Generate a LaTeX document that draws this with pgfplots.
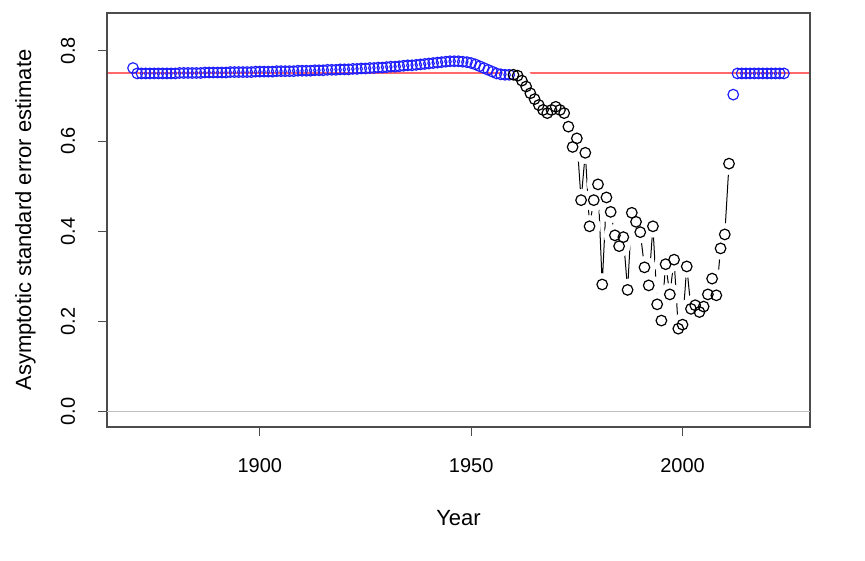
\documentclass[border=0pt]{standalone}
\usepackage{fontspec}
\setmainfont{Liberation Sans}
\usepackage{pgfplots}
\pgfplotsset{compat=1.18}
\usepackage{pgfplotstable}
\definecolor{myred}{RGB}{255,105,105}
\definecolor{bluept}{RGB}{30,30,255}
\pgfplotstableread{
yr v
1870 0.762
1871 0.750
1872 0.750
1873 0.750
1874 0.750
1875 0.750
1876 0.750
1877 0.750
1878 0.750
1879 0.750
1880 0.750
1881 0.751
1882 0.751
1883 0.751
1884 0.751
1885 0.751
1886 0.751
1887 0.752
1888 0.752
1889 0.752
1890 0.752
1891 0.752
1892 0.752
1893 0.753
1894 0.753
1895 0.753
1896 0.753
1897 0.753
1898 0.753
1899 0.754
1900 0.754
1901 0.754
1902 0.754
1903 0.754
1904 0.755
1905 0.755
1906 0.755
1907 0.755
1908 0.755
1909 0.756
1910 0.756
1911 0.756
1912 0.756
1913 0.757
1914 0.757
1915 0.757
1916 0.758
1917 0.758
1918 0.758
1919 0.759
1920 0.759
1921 0.759
1922 0.760
1923 0.760
1924 0.761
1925 0.761
1926 0.762
1927 0.762
1928 0.763
1929 0.763
1930 0.764
1931 0.765
1932 0.765
1933 0.766
1934 0.767
1935 0.768
1936 0.768
1937 0.769
1938 0.770
1939 0.771
1940 0.772
1941 0.773
1942 0.774
1943 0.775
1944 0.776
1945 0.777
1946 0.777
1947 0.777
1948 0.776
1949 0.775
1950 0.773
1951 0.770
1952 0.766
1953 0.762
1954 0.758
1955 0.754
1956 0.750
1957 0.748
1958 0.747
1959 0.747
2012 0.703
2013 0.750
2014 0.750
2015 0.750
2016 0.750
2017 0.750
2018 0.750
2019 0.750
2020 0.750
2021 0.750
2022 0.750
2023 0.750
2024 0.750
}\bluetab
\pgfplotstableread{
yr v
1960 0.747
1961 0.745
1962 0.734
1963 0.721
1964 0.706
1965 0.693
1966 0.680
1967 0.669
1968 0.662
1969 0.669
1970 0.676
1971 0.669
1972 0.662
1973 0.632
1974 0.587
1975 0.606
1976 0.469
1977 0.574
1978 0.411
1979 0.469
1980 0.504
1981 0.282
1982 0.475
1983 0.443
1984 0.391
1985 0.367
1986 0.387
1987 0.270
1988 0.441
1989 0.421
1990 0.398
1991 0.320
1992 0.280
1993 0.411
1994 0.238
1995 0.202
1996 0.327
1997 0.260
1998 0.337
1999 0.184
2000 0.193
2001 0.322
2002 0.228
2003 0.236
2004 0.221
2005 0.233
2006 0.260
2007 0.295
2008 0.258
2009 0.362
2010 0.393
2011 0.550
}\blacktab
\begin{document}
\fontsize{20}{24}\selectfont
\begin{tikzpicture}
\begin{axis}[name=ax,
  scale only axis, width=703pt, height=414pt,
  xmin=1863.84, xmax=2030.16, ymin=-0.034, ymax=0.884,
  axis line style={black!70, line width=1.2pt},
  xtick={1900,1950,2000}, ytick={0,0.2,0.4,0.6,0.8},
  xtick pos=bottom, ytick pos=left, tick align=outside,
  major tick length=9pt, tick style={black!70, line width=1pt},
  /pgf/number format/assume math mode=true,
  xticklabel style={/pgf/number format/1000 sep={}},
  yticklabel style={rotate=90, anchor=south, /pgf/number format/fixed, /pgf/number format/fixed zerofill, /pgf/number format/precision=1},
  xticklabel shift=16pt, yticklabel shift=16pt,
  xlabel={Year}, ylabel={Asymptotic standard error estimate},
  label style={font=\fontsize{22}{26}\selectfont},
  xlabel style={at={(axis description cs:0.5,-0.22)}, anchor=center},
  ylabel style={at={(axis description cs:-0.116,0.5)}, anchor=center},
]
\addplot[draw=black!25, line width=1pt, forget plot] coordinates {(1863.84,0) (2030.16,0)};
\addplot[draw=black, line width=1pt] table[x=yr, y=v] {\blacktab};
\addplot[only marks, mark=*, mark size=11pt, draw=white, fill=white, mark options={draw=white, fill=white}] table[x=yr, y=v] {\blacktab};
\addplot[only marks, mark=o, mark size=5.3pt, draw=bluept, mark options={draw=bluept, line width=1.2pt}] table[x=yr, y=v] {\bluetab};
\addplot[only marks, mark=o, mark size=5.3pt, draw=black, mark options={draw=black, line width=1.2pt}] table[x=yr, y=v] {\blacktab};
\addplot[myred, line width=2pt, sharp plot, mark=none] coordinates {(1864,0.75) (1900,0.75) (1950,0.75) (2000,0.75) (2030,0.75)};
\end{axis}
\pgfresetboundingbox
\path ([shift={(-107pt,-134pt)}]ax.south west) rectangle ([shift={(55pt,13pt)}]ax.north east);
\end{tikzpicture}
\end{document}
